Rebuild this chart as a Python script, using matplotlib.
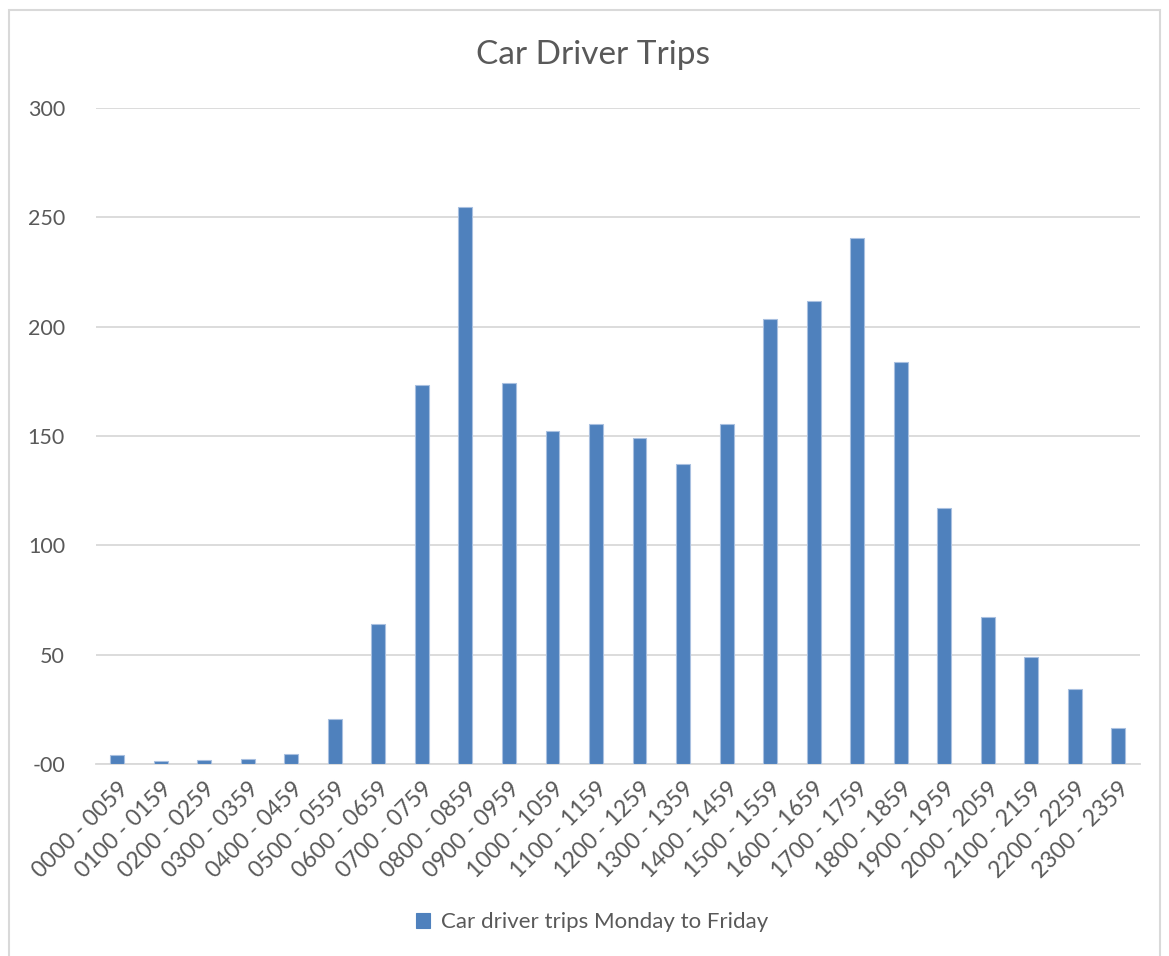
import matplotlib
matplotlib.use("Agg")
import matplotlib.pyplot as plt
from matplotlib.patches import Rectangle

categories = ["0000 - 0059", "0100 - 0159", "0200 - 0259", "0300 - 0359", "0400 - 0459",
              "0500 - 0559", "0600 - 0659", "0700 - 0759", "0800 - 0859", "0900 - 0959",
              "1000 - 1059", "1100 - 1159", "1200 - 1259", "1300 - 1359", "1400 - 1459",
              "1500 - 1559", "1600 - 1659", "1700 - 1759", "1800 - 1859", "1900 - 1959",
              "2000 - 2059", "2100 - 2159", "2200 - 2259", "2300 - 2359"]
trips = [4.0, 1.4, 1.8, 2.3, 4.7, 20.7, 63.9, 173.2, 254.9, 174.2,
         152.1, 155.7, 149.0, 137.4, 155.7, 203.5, 211.6, 240.6, 183.9, 117.0,
         67.4, 48.9, 34.4, 16.4]
yticks = [0, 50, 100, 150, 200, 250, 300]
ytick_labels = ["-00", "50", "100", "150", "200", "250", "300"]
series_name = "Car driver trips Monday to Friday"
title = "Car Driver Trips"

plt.rcParams['font.family'] = ['Lato', 'DejaVu Sans']
text_color = "#595959"
bar_color = "#4F81BD"
grid_color = "#D9D9D9"

W, H = 1169, 956
fig = plt.figure(figsize=(W / 100, H / 100), dpi=100)
fig.patch.set_facecolor("white")
fig.add_artist(Rectangle((9 / W, -0.05), 1151 / W, 1.05 - 10 / H, transform=fig.transFigure,
                         fill=False, edgecolor=grid_color, linewidth=1.5))

ax = fig.add_axes([95.5 / W, 1 - 764 / H, (1140 - 95.5) / W, (764 - 108) / H])
x = list(range(len(categories)))
ax.bar(x, trips, width=0.32, color=bar_color, edgecolor="#a9c0e0", linewidth=0.8,
       label=series_name, zorder=3)
ax.set_xlim(-0.5, len(categories) - 0.5)
ax.set_ylim(0, 300)
ax.set_yticks(yticks)
ax.set_yticklabels(ytick_labels)
ax.yaxis.grid(True, color=grid_color, linewidth=1.3, zorder=0)
ax.set_axisbelow(True)
for s in ["top", "right", "left"]:
    ax.spines[s].set_visible(False)
ax.spines["bottom"].set_color(grid_color)
ax.spines["bottom"].set_linewidth(1.3)
ax.tick_params(axis="y", length=0, pad=22, labelsize=15.5, labelcolor=text_color)
ax.tick_params(axis="x", length=0, pad=10, labelsize=16.5, labelcolor=text_color)
ax.set_xticks(x)
ax.set_xticklabels(categories, rotation=45, ha="right", rotation_mode="anchor")

fig.text(593 / W, 1 - 55 / H, title, ha="center", va="center", fontsize=24, color=text_color)
leg = fig.legend(loc="center", bbox_to_anchor=(592 / W, 1 - 922 / H), frameon=False,
                 fontsize=16, handlelength=0.65, handleheight=0.65, handletextpad=0.5,
                 labelcolor=text_color)
for h in leg.legend_handles:
    h.set_edgecolor(bar_color)

fig.savefig("out.png", dpi=100)
